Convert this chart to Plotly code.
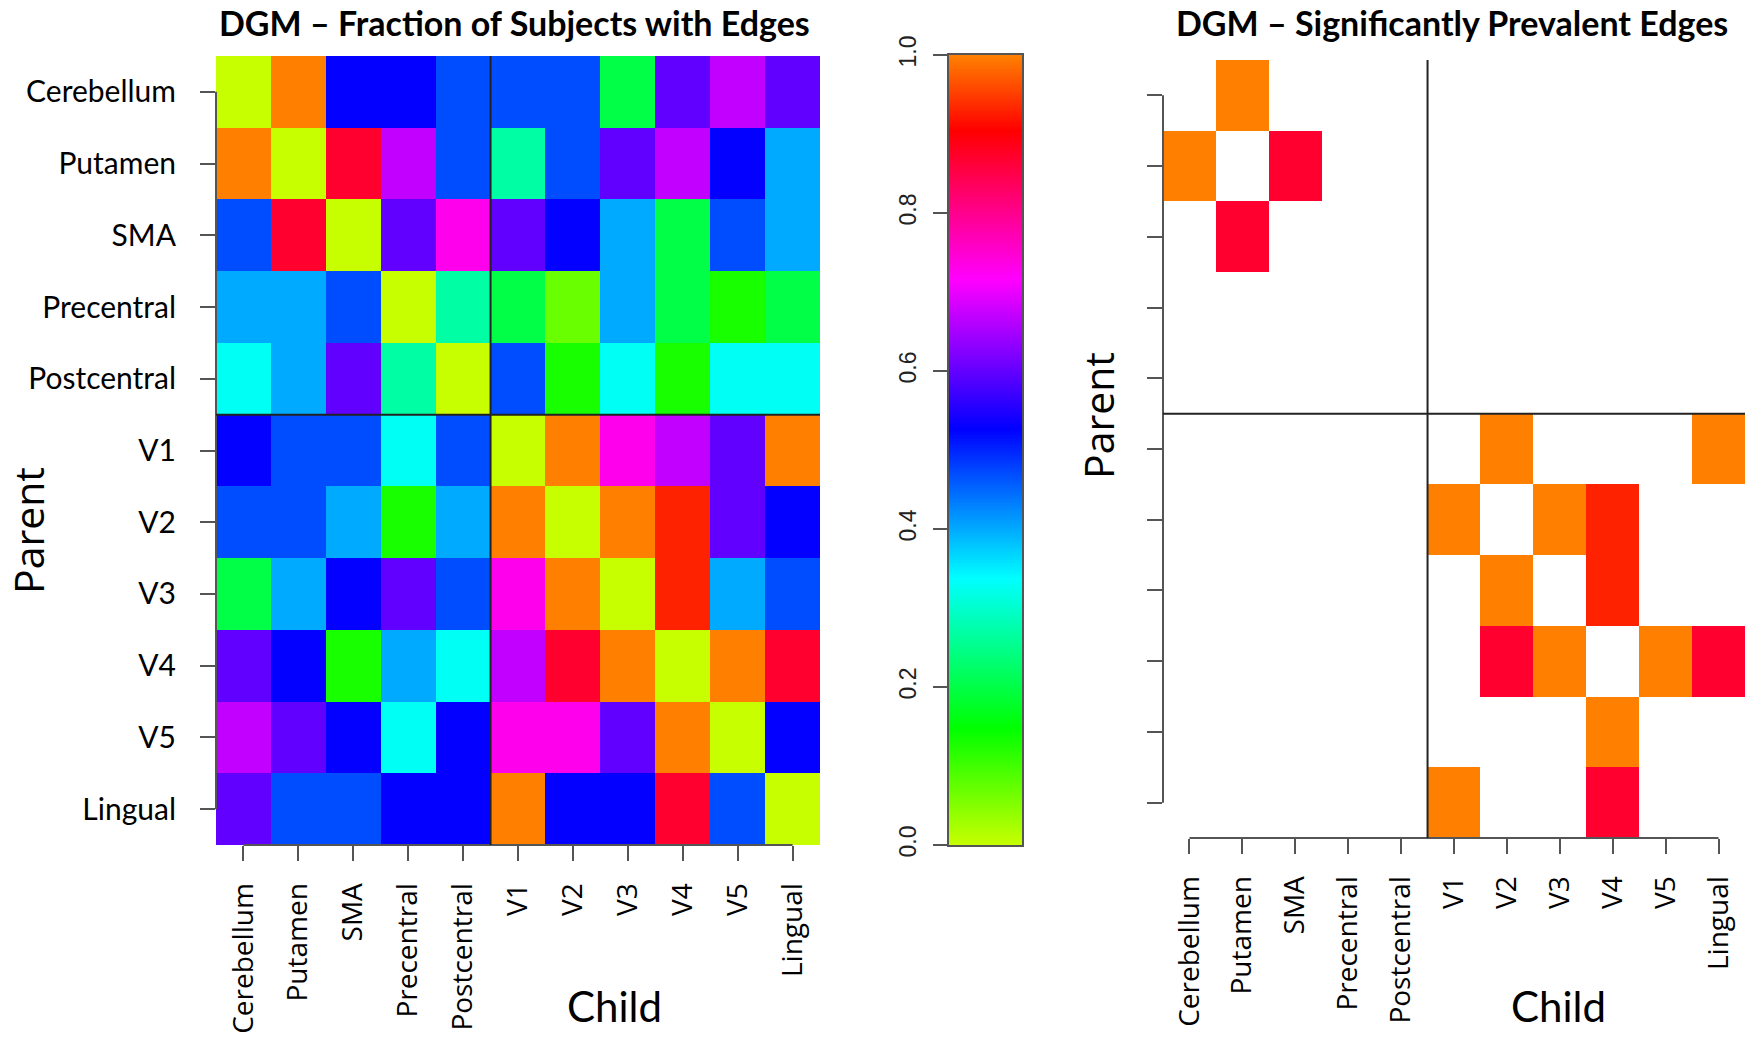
import plotly.graph_objects as go

# ---------------- data ----------------
regions = ["Cerebellum", "Putamen", "SMA", "Precentral", "Postcentral",
           "V1", "V2", "V3", "V4", "V5", "Lingual"]

# Fraction of subjects with edge parent(row) -> child(column)
frac_cerebellum  = [0.00, 1.00, 0.53, 0.53, 0.47, 0.47, 0.47, 0.20, 0.60, 0.67, 0.60]
frac_putamen     = [1.00, 0.00, 0.87, 0.67, 0.47, 0.27, 0.47, 0.60, 0.67, 0.53, 0.40]
frac_sma         = [0.47, 0.87, 0.00, 0.60, 0.73, 0.60, 0.53, 0.40, 0.20, 0.47, 0.40]
frac_precentral  = [0.40, 0.40, 0.47, 0.00, 0.27, 0.20, 0.07, 0.40, 0.20, 0.13, 0.20]
frac_postcentral = [0.33, 0.40, 0.60, 0.27, 0.00, 0.47, 0.13, 0.33, 0.13, 0.33, 0.33]
frac_v1          = [0.53, 0.47, 0.47, 0.33, 0.47, 0.00, 1.00, 0.73, 0.67, 0.60, 1.00]
frac_v2          = [0.47, 0.47, 0.40, 0.13, 0.40, 1.00, 0.00, 1.00, 0.93, 0.60, 0.53]
frac_v3          = [0.20, 0.40, 0.53, 0.60, 0.47, 0.73, 1.00, 0.00, 0.93, 0.40, 0.47]
frac_v4          = [0.60, 0.53, 0.13, 0.40, 0.33, 0.67, 0.87, 1.00, 0.00, 1.00, 0.87]
frac_v5          = [0.67, 0.60, 0.53, 0.33, 0.53, 0.73, 0.73, 0.60, 1.00, 0.00, 0.53]
frac_lingual     = [0.60, 0.47, 0.47, 0.53, 0.53, 1.00, 0.53, 0.53, 0.87, 0.47, 0.00]

# Significantly prevalent edges (blank = not significant)
N = None
sig_cerebellum  = [N, 1.00, N, N, N, N, N, N, N, N, N]
sig_putamen     = [1.00, N, 0.87, N, N, N, N, N, N, N, N]
sig_sma         = [N, 0.87, N, N, N, N, N, N, N, N, N]
sig_precentral  = [N, N, N, N, N, N, N, N, N, N, N]
sig_postcentral = [N, N, N, N, N, N, N, N, N, N, N]
sig_v1          = [N, N, N, N, N, N, 1.00, N, N, N, 1.00]
sig_v2          = [N, N, N, N, N, 1.00, N, 1.00, 0.93, N, N]
sig_v3          = [N, N, N, N, N, N, 1.00, N, 0.93, N, N]
sig_v4          = [N, N, N, N, N, N, 0.87, 1.00, N, 1.00, 0.87]
sig_v5          = [N, N, N, N, N, N, N, N, 1.00, N, N]
sig_lingual     = [N, N, N, N, N, 1.00, N, N, 0.87, N, N]

colorbar_range = [0.0, 1.0]
colorbar_ticks = [0.0, 0.2, 0.4, 0.6, 0.8, 1.0]
colorbar_ticktext = ["0.0", "0.2", "0.4", "0.6", "0.8", "1.0"]

frac_matrix = [frac_cerebellum, frac_putamen, frac_sma, frac_precentral, frac_postcentral,
               frac_v1, frac_v2, frac_v3, frac_v4, frac_v5, frac_lingual]
sig_matrix = [sig_cerebellum, sig_putamen, sig_sma, sig_precentral, sig_postcentral,
              sig_v1, sig_v2, sig_v3, sig_v4, sig_v5, sig_lingual]

# ---------------- style ----------------
W, H = 1751, 1038
colorscale = [[0.0, "#C8FF00"], [0.148, "#00FF00"], [0.3375, "#00FFFF"],
              [0.527, "#0000FF"], [0.716, "#FF00FF"], [0.905, "#FF0000"],
              [1.0, "#FF8000"]]

def px(a):
    return a / W

def py(a):
    return 1 - a / H

def dx(a, b):
    return [px(a), px(b)]

def dy(top, bottom):
    return [py(bottom), py(top)]

AX = "#555555"
TICKFONT_Y = dict(family="Lato, Calibri, sans-serif", size=30, color="black")
TICKFONT_X = dict(family="Open Sans, sans-serif", size=28, color="black")

fig = go.Figure()

fig.add_trace(go.Heatmap(
    x=regions, y=regions, z=frac_matrix, zmin=0, zmax=1,
    colorscale=colorscale, showscale=False, xaxis="x", yaxis="y",
    hovertemplate="Parent %{y} → Child %{x}: %{z}<extra></extra>"))

fig.add_trace(go.Heatmap(
    x=regions, y=regions, z=sig_matrix, zmin=0, zmax=1,
    colorscale=colorscale, showscale=False, xaxis="x2", yaxis="y2",
    hovertemplate="Parent %{y} → Child %{x}: %{z}<extra></extra>"))

# colour key drawn as a smooth heatmap between the scale ends
fig.add_trace(go.Heatmap(
    x=[0, 1], y=colorbar_range,
    z=[[colorbar_range[0], colorbar_range[0]], [colorbar_range[1], colorbar_range[1]]],
    zmin=0, zmax=1, zsmooth="best", colorscale=colorscale, showscale=False,
    xaxis="x3", yaxis="y3", hoverinfo="skip"))

cat_x = dict(type="category", categoryorder="array", categoryarray=regions,
             range=[-0.5, 10.5], showgrid=False, zeroline=False, showline=False,
             automargin=False,
             ticks="outside", ticklen=15, tickwidth=2, tickcolor=AX,
             tickangle=-90, tickfont=TICKFONT_X, ticklabelstandoff=11)
cat_y = dict(type="category", categoryorder="array", categoryarray=regions,
             range=[10.5, -0.5], showgrid=False, zeroline=False, showline=False,
             automargin=False,
             ticks="outside", ticklen=15, tickwidth=2, tickcolor=AX,
             tickfont=TICKFONT_Y, ticklabelstandoff=18)

fig.update_layout(
    width=W, height=H, margin=dict(l=0, r=0, t=0, b=0, autoexpand=False),
    paper_bgcolor="white", plot_bgcolor="white", showlegend=False,
    xaxis=dict(cat_x, domain=dx(216, 820), anchor="y"),
    yaxis=dict(cat_y, domain=dy(56, 845), anchor="x"),
    xaxis2=dict(cat_x, domain=dx(1163, 1745), anchor="y2"),
    yaxis2=dict(cat_y, domain=dy(60, 838), anchor="x2", showticklabels=False),
    xaxis3=dict(domain=dx(949, 1022), anchor="y3", range=[0, 1], showgrid=False,
                zeroline=False, showticklabels=False, ticks="", automargin=False,
                showline=True, mirror=True, linecolor=AX, linewidth=1.5),
    yaxis3=dict(domain=dy(55, 845), anchor="x3", range=colorbar_range, side="left",
                showgrid=False, zeroline=False, showline=True, mirror=True,
                automargin=False,
                linecolor=AX, linewidth=1.5, ticks="outside", ticklen=14,
                tickwidth=2, tickcolor=AX, tickvals=colorbar_ticks,
                ticktext=colorbar_ticktext, tickangle=-90,
                tickfont=dict(family="Liberation Sans, Arial, sans-serif", size=23, color="#222"),
                ticklabelstandoff=8),
)

shapes = []
for xa, ya in (("x", "y"), ("x2", "y2")):
    # axis lines from first to last tick
    shapes.append(dict(type="line", xref=xa, yref=ya + " domain", x0=0, x1=10, y0=0, y1=0,
                       line=dict(color=AX, width=2)))
    shapes.append(dict(type="line", xref=xa + " domain", yref=ya, x0=0, x1=0, y0=0, y1=10,
                       line=dict(color=AX, width=2)))
    # block dividers
    shapes.append(dict(type="line", xref=xa, yref=ya + " domain", x0=4.5, x1=4.5, y0=0, y1=1,
                       line=dict(color="#222222", width=2)))
    shapes.append(dict(type="line", xref=xa + " domain", yref=ya, x0=0, x1=1, y0=4.5, y1=4.5,
                       line=dict(color="#222222", width=2)))
fig.update_layout(shapes=shapes)

TITLE_FONT = dict(family="Lato, Calibri, sans-serif", size=34, color="black")
AXT_FONT = dict(family="Open Sans, sans-serif", size=41, color="black")
CHILD_FONT = dict(family="Lato, Calibri, sans-serif", size=42, color="black")
ann = [
    dict(text="<b>DGM – Fraction of Subjects with Edges</b>", x=px(514), y=py(23),
         font=TITLE_FONT),
    dict(text="<b>DGM – Significantly Prevalent Edges</b>", x=px(1452), y=py(23),
         font=TITLE_FONT),
    dict(text="Parent", x=px(28), y=py(531), textangle=-90, font=AXT_FONT),
    dict(text="Parent", x=px(1098), y=py(416), textangle=-90, font=AXT_FONT),
    dict(text="Child", x=px(614), y=py(1006), font=CHILD_FONT),
    dict(text="Child", x=px(1558), y=py(1006), font=CHILD_FONT),
]
for a in ann:
    a.update(xref="paper", yref="paper", showarrow=False, xanchor="center", yanchor="middle")
fig.update_layout(annotations=ann)

fig.write_html("out.html", config={"displayModeBar": False},
               post_script="document.body.style.margin='0';document.body.style.overflow='hidden';")
